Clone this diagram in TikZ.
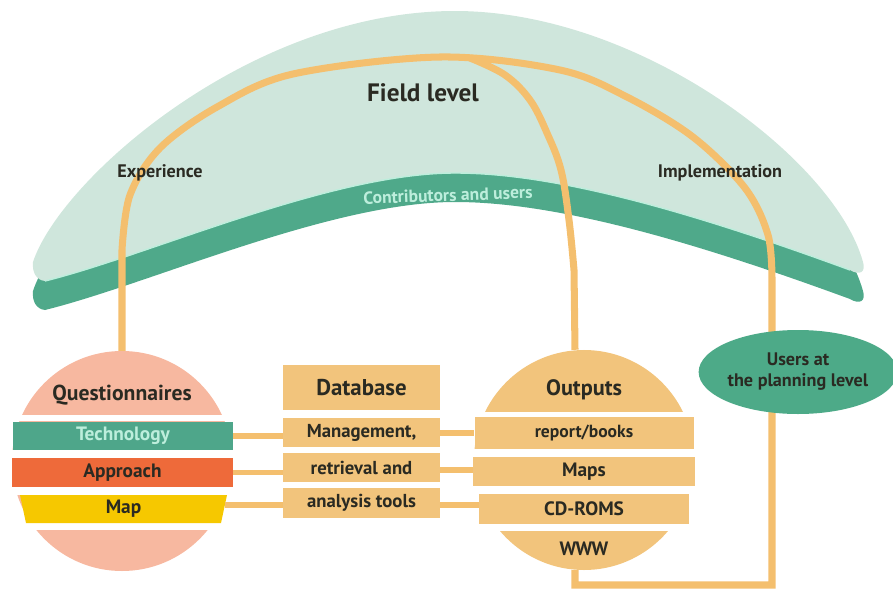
\documentclass[tikz,border=0pt]{standalone}
\usepackage{fontspec}
\setmainfont{PT Sans}
\usetikzlibrary{shapes.geometric}

\definecolor{bandlight}{HTML}{CFE6DC}
\definecolor{banddark}{HTML}{4FA98A}
\definecolor{bandglow}{HTML}{BDEEDC}
\definecolor{linkorange}{HTML}{F4BF6E}
\definecolor{qpink}{HTML}{F7B8A0}
\definecolor{techteal}{HTML}{4EA68A}
\definecolor{approachred}{HTML}{EE6A3A}
\definecolor{mapyellow}{HTML}{F6C800}
\definecolor{peach}{HTML}{F2C47C}
\definecolor{userteal}{HTML}{4DAA88}
\definecolor{inkdark}{HTML}{2A2A22}

\newcommand{\fs}[1]{\bfseries\fontsize{#1}{#1}\selectfont}

\tikzset{
  link/.style={draw=linkorange, line width=6pt},
  tie/.style={draw=linkorange, line width=4.5pt},
  band/.style={rectangle, inner sep=0pt, text=inkdark, font=\fs{16.5}},
  dbbox/.style={rectangle, fill=peach, inner sep=0pt, minimum width=4.71cm, text=inkdark, font=\fs{16}},
  label/.style={text=inkdark, font=\fs{15.5}},
  disc/.style={circle, minimum size=6.6cm, inner sep=0pt},
  gap/.style={fill=white},
}

\begin{document}
\begin{tikzpicture}[x=0.03cm, y=-0.03cm]
\useasboundingbox (0,0) rectangle (893,589);

% arched field band: a lower copy in dark teal gives it thickness
\def\archshape{(33,262) .. controls (60,180) and (250,11) .. (455,11)
  .. controls (640,11) and (835,160) .. (863,262)
  .. controls (866,272) and (860,276) .. (850,270)
  .. controls (700,215) and (560,173) .. (455,173)
  .. controls (330,173) and (150,255) .. (45,281)
  .. controls (36,280) and (32,272) .. (33,262) -- cycle}
\fill[banddark, yshift=-0.87cm] \archshape;
\fill[bandlight] \archshape;
\draw[bandglow, line width=1.2pt] (850,270) .. controls (700,215) and (560,173) .. (455,173)
  .. controls (330,173) and (150,255) .. (45,281);

% main discs
\node[disc, fill=qpink] (q) at (122,461) {};
\node[disc, fill=peach] (o) at (584,460) {};

% feedback loop over the field level and back to the outputs
\coordinate (loopR) at (772,585);
\coordinate (loopB) at (575,585);
\draw[link] (q.north) -- plot[smooth, tension=0.55] coordinates {(122,250) (130,195) (160,148) (217,107)
  (293,74) (440,57) (560,70) (627,97) (693,137) (745,188) (768,235) (772,280)}
  -- (loopR) -- (loopB) -- ([xshift=-0.27cm]o.south);
\draw[link] plot[smooth, tension=0.6] coordinates {(470,58) (505,75) (530,100) (547,133) (561,170) (569,220) (574,270)}
  -- ([xshift=-0.27cm]o.north);

% questionnaire stripes
\fill[gap] (0,415) rectangle (245,421);
\fill[gap] (0,450) rectangle (245,458);
\fill[gap] (0,487) rectangle (245,495);
\fill[gap] (0,523) rectangle (245,530);
\node[band, fill=techteal, minimum width=6.6cm, minimum height=0.84cm, text=bandglow] (tech) at (123,436) {Technology};
\node[band, fill=approachred, minimum width=6.63cm, minimum height=0.87cm] (appr) at (122.5,472.5) {Approach};
\fill[mapyellow] (20,495) -- (227,495) -- (221,523) -- (26,523) -- cycle;
\node[band] (map) at (123.5,509) {Map};
\node[band, font=\fs{18.5}] (qt) at (122,395) {Questionnaires};

% output stripes
\fill[gap] (460,412) rectangle (710,417);
\fill[gap] (460,449) rectangle (710,457);
\fill[gap] (460,486) rectangle (710,494);
\fill[gap] (460,524) rectangle (710,531);
\node[band, fill=peach, minimum width=6.57cm, minimum height=0.96cm, font=\fs{15}] (rb) at (584,433) {report/books};
\node[band, fill=peach, minimum width=6.66cm, minimum height=0.87cm] (mp) at (584,471.5) {Maps};
\node[band, fill=peach, minimum width=6.3cm, minimum height=0.9cm] (cd) at (584,509) {CD-ROMS};
\node[band, font=\fs{19}] (ot) at (584,390) {Outputs};
\node[band] (www) at (584,549) {WWW};

% database column
\node[dbbox, minimum height=1.35cm, font=\fs{19.5}] (db) at (361.5,387.5) {Database};
\node[dbbox, minimum height=0.87cm] (mg) at (361.5,432.5) {Management,};
\node[dbbox, minimum height=0.87cm] (rt) at (361.5,467.5) {retrieval and};
\node[dbbox, minimum height=0.9cm] (an) at (361.5,503) {analysis tools};

% ties between stripes and database
\draw[tie] (tech.east) -- (tech.east -| mg.west);
\draw[tie] (appr.east) -- (appr.east -| rt.west);
\draw[tie] (225,505) -- (225,505 -| an.west);
\draw[tie] (mg.east |- 0,433) -- (rb.west |- 0,433);
\draw[tie] (rt.east |- 0,470) -- (mp.west |- 0,470);
\draw[tie] (an.east |- 0,505) -- (cd.west |- 0,505);

% users ellipse
\node[ellipse, fill=userteal, minimum width=5.58cm, minimum height=2.52cm, inner sep=0pt, align=center,
      text=inkdark, font=\bfseries\fontsize{15.5}{18}\selectfont] (us) at (798,372) {Users at\\the planning level};

% field labels
\node[text=inkdark, font=\fs{21.5}] (fl) at (423,93) {Field level};
\node[label] (ex) at (160,173) {Experience};
\node[label] (im) at (720,173) {Implementation};
\node[text=bandglow, rotate=2, font=\fs{15}] (cu) at (448,195) {Contributors and users};
\end{tikzpicture}
\end{document}
